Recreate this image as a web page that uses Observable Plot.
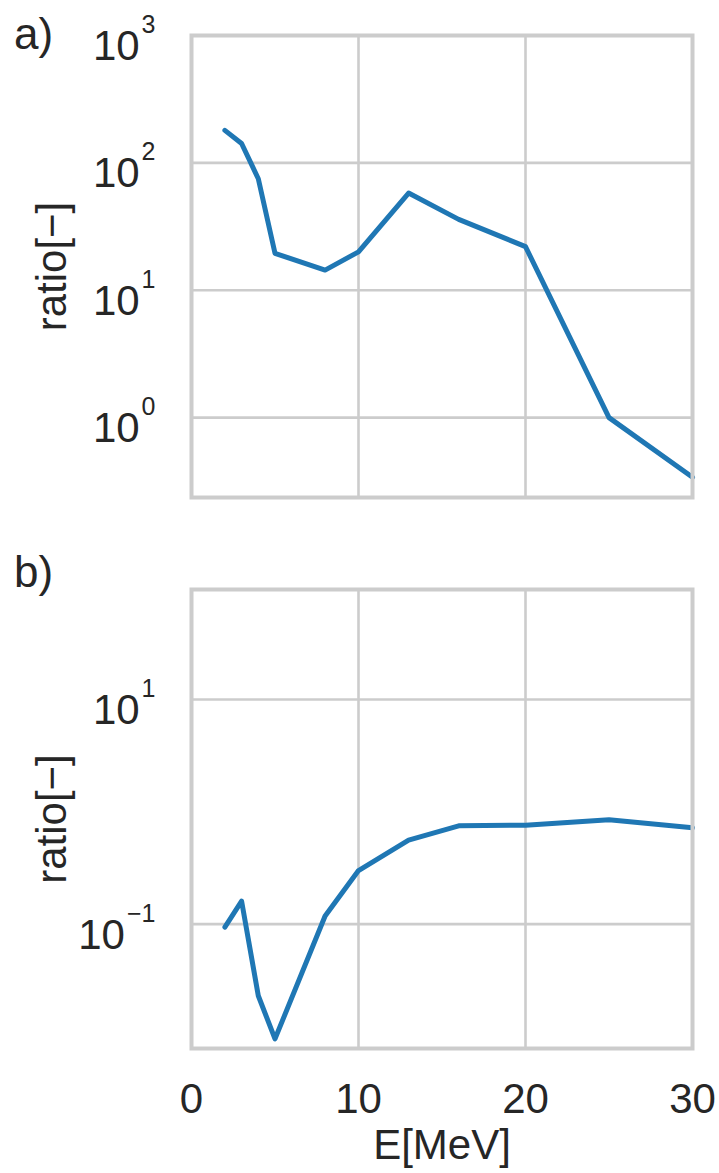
<!DOCTYPE html>
<html>
<head>
<meta charset="utf-8">
<script src="https://cdn.jsdelivr.net/npm/d3@7"></script>
<script src="https://cdn.jsdelivr.net/npm/@observablehq/plot@0.6"></script>
<style>
  html, body { margin: 0; padding: 0; background: #fff; }
  #wrap { position: relative; width: 719px; height: 1173px; overflow: hidden; font-family: "Liberation Sans", Arial, sans-serif; color: #262626; }
  .panel { position: absolute; left: 0; }
  .tag { position: absolute; left: 14px; font-size: 44px; line-height: 44px; }
</style>
</head>
<body>
<div id="wrap">
  <div class="tag" style="top:12px">a)</div>
  <div class="tag" style="top:550px">b)</div>
  <div id="pa" class="panel" style="top:0px"></div>
  <div id="pb" class="panel" style="top:530px"></div>
</div>
<script>
// Data
const energy = [2, 3, 4, 5, 8, 10, 13, 16, 20, 25, 30];          // E [MeV]
const ratioA = [180, 142, 75, 19.5, 14.4, 20, 58, 36, 22, 1.0, 0.34];
const ratioB = [0.094, 0.160, 0.023, 0.0095, 0.118, 0.30, 0.56, 0.75, 0.76, 0.85, 0.72];
const xTicks = [0, 10, 20, 30];
const yTicksA = [1, 10, 100, 1000];
const yTicksB = [0.1, 10];
const yDomainA = [0.236, 1000];
const yDomainB = [0.0078, 95.5];
const xDomain = [0, 30];

const lineColor = "#1f77b4";
const gridColor = "#cccccc";
const textColor = "#262626";

const dataA = energy.map((e, i) => ({E: e, r: ratioA[i]}));
const dataB = energy.map((e, i) => ({E: e, r: ratioB[i]}));

const expFormat = d => "10^" + String(Math.round(Math.log10(d))).replace("-", "\u2212");

function superscripts(svg) {
  d3.select(svg).selectAll('g[aria-label="y-axis tick label"] text').each(function () {
    const t = this.textContent;
    const parts = t.split("^");
    if (parts.length !== 2) return;
    this.textContent = parts[0];
    d3.select(this).append("tspan")
      .attr("dy", -27).attr("dx", 2)
      .attr("font-size", 25)
      .text(parts[1]);
  });
  return svg;
}

function panel({data, yDomain, yTicks, height, marginTop, marginBottom, showX}) {
  const marks = [
    Plot.gridX({ticks: xTicks, stroke: gridColor, strokeOpacity: 1, strokeWidth: 2.6}),
    Plot.gridY({ticks: yTicks, stroke: gridColor, strokeOpacity: 1, strokeWidth: 2.6}),
    Plot.line(data, {x: "E", y: "r", stroke: lineColor, strokeWidth: 5, strokeLinejoin: "round"}),
    Plot.frame({stroke: gridColor, strokeWidth: 4}),
    Plot.axisY({
      ticks: yTicks, tickSize: 0, tickPadding: 36, tickFormat: expFormat, dy: 11,
      fontSize: 42, label: "ratio[\u2212]", labelAnchor: "center", labelOffset: 155, labelArrow: "none"
    })
  ];
  if (showX) {
    marks.push(Plot.axisX({
      ticks: xTicks, tickSize: 0, tickPadding: 35, fontSize: 42,
      label: "E[MeV]", labelAnchor: "center", labelOffset: 110, labelArrow: "none"
    }));
  }
  const svg = Plot.plot({
    width: 719,
    height,
    marginLeft: 191,
    marginRight: 27,
    marginTop,
    marginBottom,
    style: {fontFamily: "Liberation Sans, Arial, sans-serif", fontSize: "42px", color: textColor, background: "transparent", overflow: "visible"},
    x: {domain: xDomain, axis: showX ? undefined : null},
    y: {type: "log", domain: yDomain},
    marks
  });
  return superscripts(svg);
}

document.getElementById("pa").appendChild(panel({
  data: dataA, yDomain: yDomainA, yTicks: yTicksA, height: 530, marginTop: 35, marginBottom: 33, showX: false
}));
document.getElementById("pb").appendChild(panel({
  data: dataB, yDomain: yDomainB, yTicks: yTicksB, height: 643, marginTop: 59, marginBottom: 125, showX: true
}));
</script>
</body>
</html>
